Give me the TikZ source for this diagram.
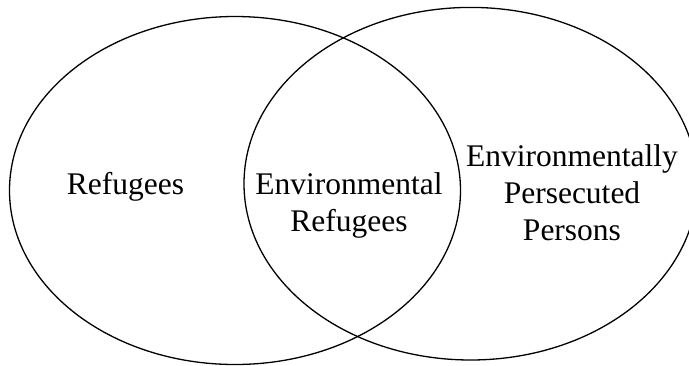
\documentclass[tikz,border=0pt]{standalone}
\usepackage{fontspec}
\setmainfont{Liberation Serif}
\usetikzlibrary{shapes.geometric}

\begin{document}
\begin{tikzpicture}[x=1pt, y=-1pt,
  set/.style={ellipse, draw, line width=1.3pt, inner sep=0pt, outer sep=0pt},
  lbl/.style={align=center, inner sep=0pt, anchor=base, font=\fontsize{31.5}{36.7}\selectfont}]

\useasboundingbox (0,0) rectangle (689,365);

\node(R) at (235,190.5)[set, minimum width=451pt, minimum height=348pt]{};
\node(P) at (470.7,183.7)[set, minimum width=453.4pt, minimum height=352.6pt]{};

\node(A) at (125.5,194)[lbl]{Refugees};
\node(B) at (349,231)[lbl]{Environmental\\Refugees};
\node(C) at (572,240)[lbl]{Environmentally\\Persecuted\\Persons};

\end{tikzpicture}
\end{document}
